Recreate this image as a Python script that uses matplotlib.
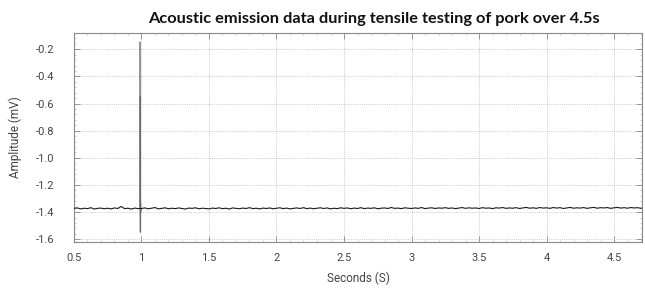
import numpy as np
import matplotlib
matplotlib.use("Agg")
import matplotlib.pyplot as plt
from matplotlib.ticker import MultipleLocator

# ---- data ----
title = "Acoustic emission data during tensile testing of pork over 4.5s"
x_label = "Seconds (S)"
y_label = "Amplitude (mV)"

x_ticks = [0.5, 1, 1.5, 2, 2.5, 3, 3.5, 4, 4.5]
x_tick_labels = ["0.5", "1", "1.5", "2", "2.5", "3", "3.5", "4", "4.5"]
y_ticks = [-1.6, -1.4, -1.2, -1.0, -0.8, -0.6, -0.4, -0.2]
y_tick_labels = ["-1.6", "-1.4", "-1.2", "-1.0", "-0.8", "-0.6", "-0.4", "-0.2"]

# baseline samples, every 0.025 s starting at 0.5 s
base_t0 = 0.5
base_dt = 0.025
base_vals = [
    -1.372, -1.369, -1.376, -1.371, -1.374, -1.367, -1.377, -1.372, -1.370, -1.375,
    -1.371, -1.376, -1.369, -1.373, -1.358, -1.374, -1.371, -1.377, -1.370, -1.374,
    -1.373, -1.369, -1.375, -1.371, -1.366, -1.376, -1.372, -1.368, -1.375, -1.371,
    -1.374, -1.369, -1.373, -1.377, -1.370, -1.372, -1.368, -1.375, -1.371, -1.373,
    -1.376, -1.370, -1.373, -1.368, -1.374, -1.371, -1.377, -1.369, -1.372, -1.375,
    -1.370, -1.373, -1.367, -1.374, -1.371, -1.376, -1.370, -1.373, -1.369, -1.375,
    -1.371, -1.368, -1.374, -1.370, -1.376, -1.372, -1.369, -1.373, -1.367, -1.374,
    -1.370, -1.375, -1.371, -1.368, -1.373, -1.369, -1.376, -1.371, -1.374, -1.368,
    -1.372, -1.369, -1.375, -1.370, -1.373, -1.367, -1.374, -1.370, -1.372, -1.368,
    -1.375, -1.371, -1.369, -1.373, -1.366, -1.372, -1.370, -1.374, -1.368, -1.371,
    -1.373, -1.369, -1.372, -1.366, -1.374, -1.370, -1.368, -1.373, -1.369, -1.371,
    -1.367, -1.372, -1.369, -1.374, -1.370, -1.366, -1.372, -1.368, -1.371, -1.369,
    -1.373, -1.367, -1.371, -1.369, -1.374, -1.368, -1.370, -1.366, -1.372, -1.369,
    -1.371, -1.367, -1.373, -1.369, -1.365, -1.371, -1.368, -1.372, -1.366, -1.370,
    -1.368, -1.372, -1.366, -1.370, -1.367, -1.373, -1.369, -1.365, -1.371, -1.368,
    -1.370, -1.366, -1.372, -1.368, -1.365, -1.371, -1.367, -1.369, -1.366, -1.372,
    -1.368, -1.365, -1.370, -1.367, -1.371, -1.366, -1.369, -1.367, -1.372, -1.368,
]

# burst near 1 s
spike_t = [0.9885, 0.9890, 0.9900, 0.9910, 0.9920, 0.9930, 0.9940, 0.9950, 0.9960, 0.9970]
spike_v = [-1.372, -0.145, -1.550, -0.550, -1.450, -1.090, -1.420, -1.330, -1.400, -1.372]

# ---- build the trace ----
base_t = base_t0 + base_dt * np.arange(len(base_vals))

fig = plt.figure(figsize=(6.45, 2.89), dpi=100)
ax = fig.add_axes([0.1147, 0.1626, 0.8806, 0.7232])

ax.plot(base_t, base_vals, color="#1a1a1a", linewidth=0.8, zorder=3)
ax.plot(spike_t, spike_v, color="#6a6a6a", linewidth=0.5, zorder=2)

ax.set_xlim(0.5, 4.707)
ax.set_ylim(-1.62, -0.08)

tick_font = "Roboto"
ax.set_xticks(x_ticks)
ax.set_xticklabels(x_tick_labels, family=tick_font, fontsize=8, color="#444444")
ax.set_yticks(y_ticks)
ax.set_yticklabels(y_tick_labels, family=tick_font, fontsize=8, color="#444444")
ax.xaxis.set_minor_locator(MultipleLocator(0.1))
ax.yaxis.set_minor_locator(MultipleLocator(0.04))

ax.tick_params(which="major", direction="in", length=4, width=0.6, color="#888888",
               top=True, right=True)
ax.tick_params(axis="x", which="major", pad=8)
ax.tick_params(axis="y", which="major", pad=14)
ax.tick_params(which="minor", direction="in", length=1.5, width=0.4, color="#aaaaaa",
               top=True, right=True)

ax.grid(True, which="major", linestyle=(0, (1, 1.5)), linewidth=0.6, color="#bbbbbb")

for s in ax.spines.values():
    s.set_color("#888888")
    s.set_linewidth(0.8)

ax.set_xlabel(x_label, family=tick_font, fontsize=8.5, color="#444444", labelpad=6)
ax.set_ylabel(y_label, family=tick_font, fontsize=8.5, color="#444444", labelpad=10)

fig.text(0.58, 0.935, title, family="Lato", fontweight="bold", fontsize=11.8,
         ha="center", va="center", color="#111111")

fig.savefig("out.png", dpi=100, facecolor="white")
